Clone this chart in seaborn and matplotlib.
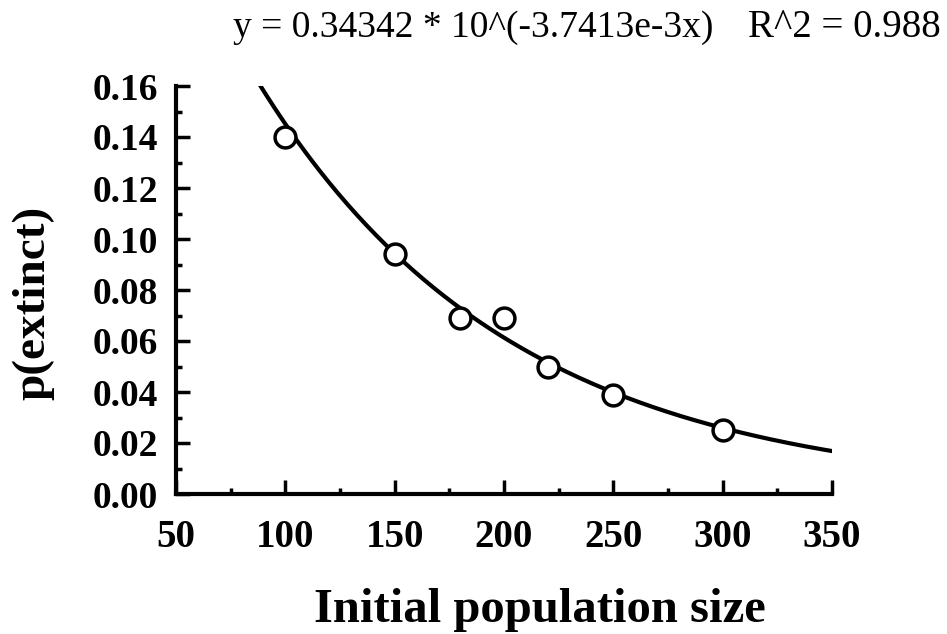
import numpy as np
import pandas as pd
import matplotlib
matplotlib.use("Agg")
import matplotlib.pyplot as plt
import seaborn as sns
from matplotlib.ticker import MultipleLocator, FormatStrFormatter

# ---- data ----
pop_size = [100, 150, 180, 200, 220, 250, 300]
p_extinct = [0.140, 0.094, 0.069, 0.069, 0.050, 0.039, 0.025]

# fitted curve as stated on the chart: y = a * 10^(b x)
fit_a = 0.34342
fit_b = -3.7413e-3
fit_x_start = 88
fit_x_end = 350

title_left = "y = 0.34342 * 10^(-3.7413e-3x)"
title_right = "R^2 = 0.988"
x_label = "Initial population size"
y_label = "p(extinct)"

# ---- style ----
sns.set_theme(style="white")
plt.rcParams["font.family"] = ["Liberation Serif", "DejaVu Serif"]

fig = plt.figure(figsize=(9.47, 6.34), dpi=100)
ax = fig.add_axes([176 / 947, 1 - 494 / 634, (832 - 176) / 947, (494 - 86) / 634])

fit_x = np.linspace(fit_x_start, fit_x_end, 300)
fit_df = pd.DataFrame({"x": fit_x, "y": fit_a * 10 ** (fit_b * fit_x)})
pts_df = pd.DataFrame({"x": pop_size, "y": p_extinct})

sns.lineplot(data=fit_df, x="x", y="y", ax=ax, color="black", lw=3, zorder=2)
ax.plot(pts_df["x"], pts_df["y"], linestyle="none", marker="o", ms=15,
        mfc="white", mec="black", mew=2.5, zorder=3)

ax.set_xlim(50, 350)
ax.set_ylim(0, 0.16)
ax.xaxis.set_major_locator(MultipleLocator(50))
ax.xaxis.set_minor_locator(MultipleLocator(25))
ax.yaxis.set_major_locator(MultipleLocator(0.02))
ax.yaxis.set_minor_locator(MultipleLocator(0.01))
ax.yaxis.set_major_formatter(FormatStrFormatter("%.2f"))

for s in ["top", "right"]:
    ax.spines[s].set_visible(False)
for s in ["left", "bottom"]:
    ax.spines[s].set_linewidth(3)
    ax.spines[s].set_color("black")

ax.tick_params(axis="both", which="both", bottom=True, left=True, top=False, right=False)
ax.tick_params(axis="both", which="major", direction="in", length=10, width=2.5,
               color="black", labelcolor="black")
ax.tick_params(axis="both", which="minor", direction="in", length=4.5, width=2.5,
               color="black")
ax.tick_params(axis="y", which="major", pad=13, labelsize=27)
ax.tick_params(axis="x", which="major", pad=18, labelsize=28)
for lbl in ax.get_xticklabels() + ax.get_yticklabels():
    lbl.set_fontweight("bold")

ax.set_xlabel(x_label, fontsize=35, fontweight="bold", color="black")
ax.set_ylabel(y_label, fontsize=34, fontweight="bold", color="black")
ax.xaxis.set_label_coords((540 - 176) / 656, (494 - 588) / 408)
ax.yaxis.set_label_coords((12 - 176) / 656, (494 - 303) / 408)
ax.yaxis.label.set_verticalalignment("top")

fig.text(233 / 947, 1 - 37 / 634, title_left, fontsize=27, ha="left", va="baseline",
         color="black")
fig.text(748 / 947, 1 - 37 / 634, title_right, fontsize=28, ha="left", va="baseline",
         color="black")

fig.savefig("out.png", dpi=100, facecolor="white")
